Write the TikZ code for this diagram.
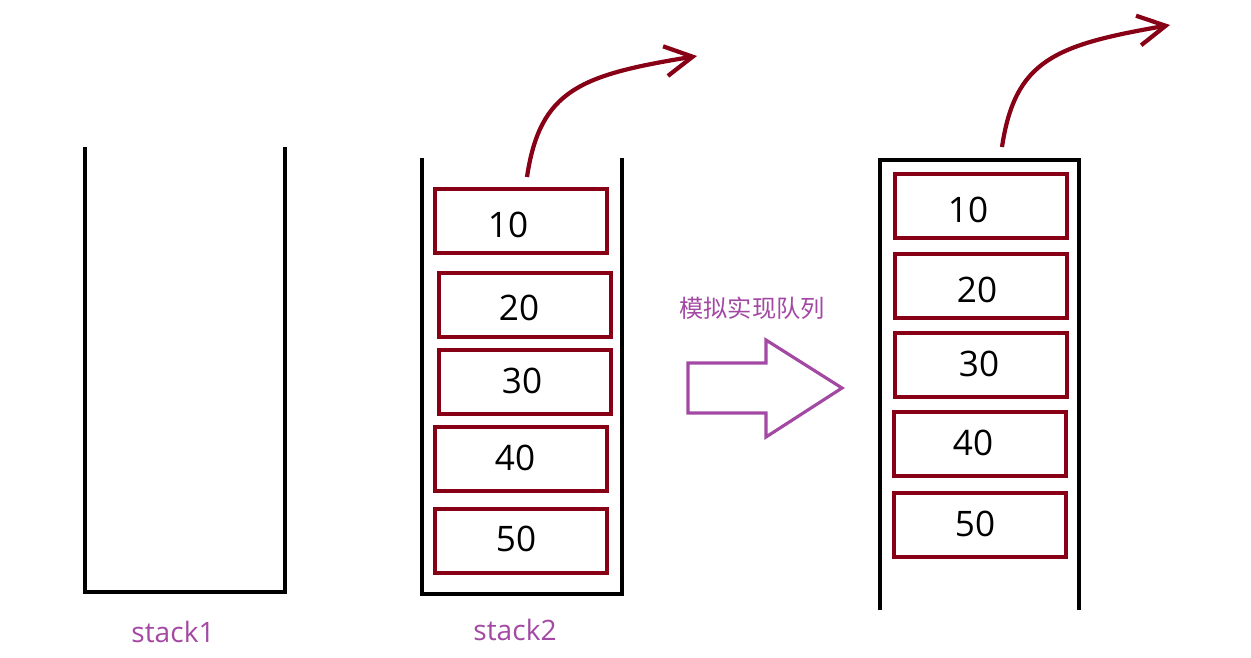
\documentclass[tikz,border=0pt]{standalone}
\usepackage{fontspec}
\setmainfont{Open Sans}
\newfontfamily\cjkfont{Noto Sans CJK SC}
\usetikzlibrary{arrows.meta}

\definecolor{cellred}{HTML}{880015}
\definecolor{notepurple}{HTML}{A349A4}

\tikzset{
  wall/.style={line width=2.4pt, black},
  cell/.style={draw=cellred, line width=2.6pt, minimum width=3.44cm,
    minimum height=1.28cm, inner sep=0pt},
  num/.style={font=\fontsize{20}{24}\selectfont, inner sep=0pt},
  tag/.style={font=\fontsize{16}{19}\selectfont, text=notepurple, inner sep=0pt},
  popout/.style={line width=2.4pt, cellred,
    -{Straight Barb[length=5.5mm, width=6mm, line width=2.4pt]}},
}

\begin{document}
\begin{tikzpicture}[x=0.02cm, y=-0.02cm]
    \useasboundingbox (0,0) rectangle (1251,657);

    % stack1, empty
    \draw[wall] (85,147) -- (85,592) -- (285,592) -- (285,147);
    \node[tag] (lbl1) at (173,632) {stack1};

    % stack2
    \draw[wall] (422,158) -- (422,594) -- (622,594) -- (622,158);
    \node[cell] (a10) at (521,221) {};
    \node[cell] (a20) at (525,305) {};
    \node[cell] (a30) at (525,382) {};
    \node[cell] (a40) at (521,459) {};
    \node[cell] (a50) at (521,541) {};
    \node[num] at (508,225) {10};
    \node[num] at (519,308) {20};
    \node[num] at (522,381) {30};
    \node[num] at (515,458) {40};
    \node[num] at (516,539) {50};
    \node[tag] (lbl2) at (515,630) {stack2};

    \coordinate (outA) at (527,177);
    \coordinate (endA) at (697,56);
    \draw[popout] (outA) .. controls (540,90) and (580,75) .. (endA);

    % the big arrow
    \node[tag, font=\cjkfont\fontsize{13.8}{16}\selectfont] (note) at (752,308) {模拟实现队列};
    \draw[notepurple, line width=1.8pt, line join=miter]
      (688,363) -- (766,363) -- (766,340) -- (842,388) -- (766,437)
      -- (766,413) -- (688,413) -- cycle;

    % queue view
    \draw[wall] (880,610) -- (880,160) -- (1079,160) -- (1079,610);
    \node[cell] (b10) at (981,206) {};
    \node[cell] (b20) at (981,286) {};
    \node[cell] (b30) at (981,365) {};
    \node[cell] (b40) at (980,444) {};
    \node[cell] (b50) at (980,525) {};
    \node[num] at (968,210) {10};
    \node[num] at (977,290) {20};
    \node[num] at (979,364) {30};
    \node[num] at (973,443) {40};
    \node[num] at (975,524) {50};

    \coordinate (outB) at (1002,147);
    \coordinate (endB) at (1170,25);
    \draw[popout] (outB) .. controls (1015,60) and (1055,45) .. (endB);
\end{tikzpicture}
\end{document}
